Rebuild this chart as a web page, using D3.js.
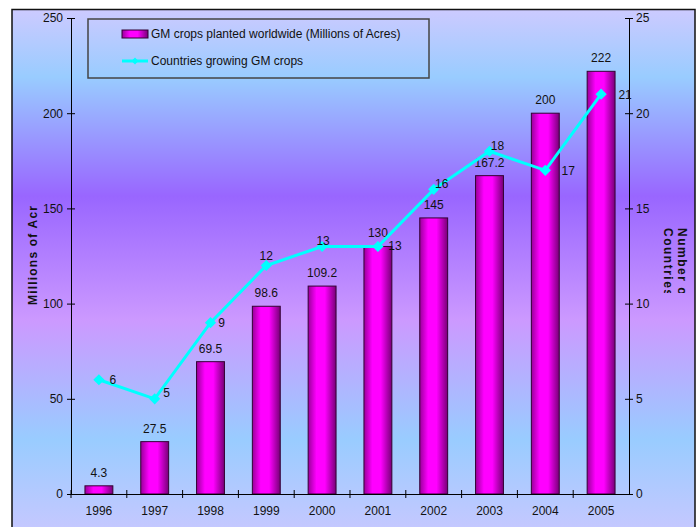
<!DOCTYPE html>
<html><head><meta charset="utf-8">
<script src="https://cdn.jsdelivr.net/npm/d3@7"></script>
<style>body{margin:0;background:#fff}text{font-family:"Liberation Sans",Arial,sans-serif}</style>
</head><body><svg id="c" width="700" height="527"></svg>
<script>
const years = ["1996","1997","1998","1999","2000","2001","2002","2003","2004","2005"];
const acres = [4.3,27.5,69.5,98.6,109.2,130,145,167.2,200,222];
const countries = [6,5,9,12,13,13,16,18,17,21];
const leftTicks = [0,50,100,150,200,250];
const rightTicks = [0,5,10,15,20,25];
const barName = "GM crops planted worldwide (Millions of Acres)";
const lineName = "Countries growing GM crops";

const FS = 12;
const svg = d3.select("#c");
const defs = svg.append("defs");
const bg = defs.append("linearGradient").attr("id","bg").attr("gradientUnits","userSpaceOnUse")
  .attr("x1",0).attr("y1",10).attr("x2",0).attr("y2",527);
[[0,"#cccaff"],[0.13,"#99ccff"],[0.36,"#9966ff"],[0.6,"#cc99ff"],[0.83,"#99ccff"],[1,"#c4c8ff"]]
  .forEach(([o,c])=>bg.append("stop").attr("offset",o).attr("stop-color",c));
const bar = defs.append("linearGradient").attr("id","bar").attr("x1",0).attr("x2",1).attr("y1",0).attr("y2",0);
[[0,"#990099"],[0.3,"#ff00ff"],[0.6,"#ff00ff"],[1,"#770077"]]
  .forEach(([o,c])=>bar.append("stop").attr("offset",o).attr("stop-color",c));
defs.append("clipPath").attr("id","clipL").append("rect").attr("x",0).attr("y",206).attr("width",60).attr("height",200);
defs.append("clipPath").attr("id","clipR").append("rect").attr("x",640).attr("y",200).attr("width",60).attr("height",93);

svg.append("rect").attr("x",12).attr("y",9.5).attr("width",683).attr("height",530)
  .attr("fill","url(#bg)").attr("stroke","#111").attr("stroke-width",1.5);

const L=71,R=629,T=18,B=494;
const x = d3.scaleBand().domain(years).range([L,R]);
const yL = d3.scaleLinear().domain([0,250]).range([B,T]);
const yR = d3.scaleLinear().domain([0,25]).range([B,T]);

// bars
svg.append("g").selectAll("rect").data(acres).join("rect")
  .attr("x",(d,i)=>x(years[i])+x.bandwidth()*0.25).attr("width",x.bandwidth()*0.5)
  .attr("y",d=>yL(d)).attr("height",d=>B-yL(d))
  .attr("fill","url(#bar)").attr("stroke","#330033").attr("stroke-width",1);
svg.append("g").selectAll("text").data(acres).join("text")
  .attr("x",(d,i)=>x(years[i])+x.bandwidth()/2).attr("y",d=>yL(d)-9)
  .attr("text-anchor","middle").attr("font-size",FS).attr("fill","#111").text(d=>d);

// axes
const axL = svg.append("g").attr("transform",`translate(${L},0)`)
  .call(d3.axisLeft(yL).tickValues(leftTicks).tickSize(4).tickSizeOuter(0));
axL.selectAll(".tick line").attr("x1",4);
const axR = svg.append("g").attr("transform",`translate(${R},0)`)
  .call(d3.axisRight(yR).tickValues(rightTicks).tickSize(4).tickSizeOuter(0));
axR.selectAll(".tick line").attr("x1",-4);
const axB = svg.append("g").attr("transform",`translate(0,${B})`)
  .call(d3.axisBottom(x).tickSize(0).tickPadding(12));
axB.selectAll(".tick").each(function(d,i){
  d3.select(this).append("line").attr("x1",-x.step()/2).attr("x2",-x.step()/2).attr("y1",-4).attr("y2",4).attr("stroke","#000");
});
[axL,axR,axB].forEach(a=>{
  a.selectAll("text").attr("font-size",FS).attr("fill","#111").attr("font-family","Liberation Sans, Arial, sans-serif");
  a.selectAll("path,line").attr("stroke","#000");
});
axL.selectAll("text").attr("x",-8);
axR.selectAll("text").attr("x",7);

// line
const cx = i=>x(years[i])+x.bandwidth()/2;
svg.append("path").datum(countries)
  .attr("d",d3.line().x((d,i)=>cx(i)).y(d=>yR(d)))
  .attr("fill","none").attr("stroke","#00ffff").attr("stroke-width",3);
svg.append("g").selectAll("path").data(countries).join("path")
  .attr("transform",(d,i)=>`translate(${cx(i)},${yR(d)})`)
  .attr("d",d3.symbol(d3.symbolDiamond2,80)).attr("fill","#00ffff");
const off = [[14,4],[12,-2],[11,4],[0,-6],[1,-1],[17,4],[8,-1],[8,-1],[23,5],[24,5]];
svg.append("g").selectAll("text").data(countries).join("text")
  .attr("x",(d,i)=>cx(i)+off[i][0]).attr("y",(d,i)=>yR(d)+off[i][1])
  .attr("text-anchor","middle").attr("font-size",FS).attr("fill","#111").text(d=>d);

// axis titles
svg.append("g").attr("clip-path","url(#clipL)").append("text")
  .attr("transform","translate(37,305) rotate(-90)").attr("text-anchor","start")
  .attr("font-size",FS).attr("font-weight","bold").attr("letter-spacing",1.2).attr("fill","#111")
  .text("Millions of Acres");
const rt = svg.append("g").attr("clip-path","url(#clipR)");
rt.append("text").attr("transform","translate(678,228) rotate(90)")
  .attr("font-size",FS).attr("font-weight","bold").attr("letter-spacing",1.5).attr("fill","#111").text("Number of");
rt.append("text").attr("transform","translate(664,228) rotate(90)")
  .attr("font-size",FS).attr("font-weight","bold").attr("letter-spacing",1.5).attr("fill","#111").text("Countries");

// legend
const lg = svg.append("g");
lg.append("rect").attr("x",88).attr("y",19).attr("width",341).attr("height",59)
  .attr("fill","none").attr("stroke","#444").attr("stroke-width",1.5);
lg.append("rect").attr("x",122).attr("y",30).attr("width",26).attr("height",8)
  .attr("fill","url(#bar)").attr("stroke","#330033");
lg.append("text").attr("x",151).attr("y",38).attr("font-size",FS).attr("fill","#111").text(barName);
lg.append("line").attr("x1",122).attr("x2",148).attr("y1",61).attr("y2",61).attr("stroke","#00ffff").attr("stroke-width",3);
lg.append("path").attr("transform","translate(135,61)").attr("d",d3.symbol(d3.symbolDiamond2,30)).attr("fill","#00ffff");
lg.append("text").attr("x",151).attr("y",65).attr("font-size",FS).attr("fill","#111").text(lineName);
</script></body></html>
